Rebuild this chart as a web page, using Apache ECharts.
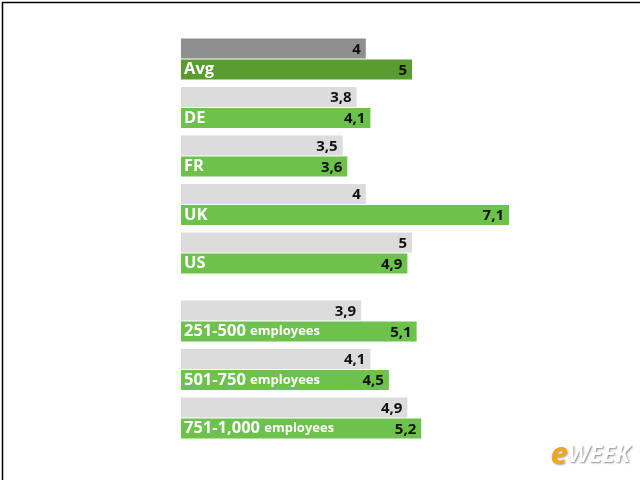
<!DOCTYPE html>
<html>
<head>
<meta charset="utf-8">
<script src="https://cdn.jsdelivr.net/npm/echarts@6/dist/echarts.min.js"></script>
<style>html,body{margin:0;padding:0;background:#fff;}#c{width:640px;height:480px;}</style>
</head>
<body>
<div id="c"></div>
<script>
const countries = ['Avg', 'DE', 'FR', 'UK', 'US'];
const countryPrev = [4, 3.8, 3.5, 4, 5];
const countryCur = [5, 4.1, 3.6, 7.1, 4.9];
const sizes = ['251-500 employees', '501-750 employees', '751-1,000 employees'];
const sizePrev = [3.9, 4.1, 4.9];
const sizeCur = [5.1, 4.5, 5.2];

const FONT = '"Open Sans", "DejaVu Sans", sans-serif';
const greyC = '#dcdcdc', greenC = '#6cc24a';
const avgGrey = '#8f8f8f', avgGreen = '#5a9c30';

function fmt(p) { return String(p.value).replace('.', ','); }
const valLabel = {
  show: true, position: 'insideRight', distance: 5, formatter: fmt,
  color: '#111111', fontFamily: FONT, fontWeight: 'bold', fontSize: 15, offset: [0, 1]
};

function items(vals, cats, normal, special) {
  return vals.map((v, i) => cats[i] === 'Avg' ? { value: v, itemStyle: { color: special } } : { value: v, itemStyle: { color: normal } });
}

const yLabel = {
  inside: true, margin: 3, color: '#ffffff', fontFamily: FONT, fontWeight: 'bold', fontSize: 16,
  padding: [21, 0, 0, 0],
  formatter: function (v) {
    const i = v.indexOf(' ');
    if (i < 0) return '{n|' + v + '}';
    return '{n|' + v.slice(0, i) + '} {e|' + v.slice(i + 1) + '}';
  },
  rich: {
    n: { color: '#fff', fontFamily: FONT, fontWeight: 'bold', fontSize: 16.5 },
    e: { color: '#fff', fontFamily: FONT, fontWeight: 'bold', fontSize: 13 }
  }
};

const xBase = { type: 'value', min: 0, max: 9, show: false };

const option = {
  animation: false,
  backgroundColor: '#ffffff',
  grid: [
    { left: 181, right: 43.2, top: 34.75, height: 242.5 },
    { left: 181, right: 43.2, top: 296.75, height: 145.5 }
  ],
  xAxis: [Object.assign({ gridIndex: 0 }, xBase), Object.assign({ gridIndex: 1 }, xBase)],
  yAxis: [
    { type: 'category', gridIndex: 0, data: countries, inverse: true, z: 10,
      axisLine: { show: false }, axisTick: { show: false }, splitLine: { show: false }, axisLabel: yLabel },
    { type: 'category', gridIndex: 1, data: sizes, inverse: true, z: 10,
      axisLine: { show: false }, axisTick: { show: false }, splitLine: { show: false }, axisLabel: yLabel }
  ],
  series: [
    { type: 'bar', xAxisIndex: 0, yAxisIndex: 0, barWidth: 20, barGap: '5%',
      data: items(countryPrev, countries, greyC, avgGrey), label: valLabel },
    { type: 'bar', xAxisIndex: 0, yAxisIndex: 0, barWidth: 20, barGap: '5%',
      data: items(countryCur, countries, greenC, avgGreen), label: valLabel },
    { type: 'bar', xAxisIndex: 1, yAxisIndex: 1, barWidth: 20, barGap: '5%',
      data: items(sizePrev, sizes, greyC, avgGrey), label: valLabel },
    { type: 'bar', xAxisIndex: 1, yAxisIndex: 1, barWidth: 20, barGap: '5%',
      data: items(sizeCur, sizes, greenC, avgGreen), label: valLabel }
  ],
  graphic: [
    { type: 'rect', left: 0, top: 0, z: 100, silent: true,
      shape: { x: 0.75, y: 0.75, width: 638.5, height: 478.5 },
      style: { fill: 'none', stroke: '#000', lineWidth: 1.5 } },
    { type: 'text', right: 10, bottom: 9, z: 100,
      style: { text: '{a|e}{b|WEEK}',
        rich: {
          a: { fontFamily: FONT, fontWeight: 'bold', fontStyle: 'italic', fontSize: 31, fill: '#f0a71f',
               textShadowColor: 'rgba(0,0,0,0.35)', textShadowBlur: 2, textShadowOffsetX: 1, textShadowOffsetY: 1 },
          b: { fontFamily: FONT, fontWeight: 'bold', fontStyle: 'italic', fontSize: 24, fill: '#ffffff',
               textShadowColor: 'rgba(0,0,0,0.45)', textShadowBlur: 2, textShadowOffsetX: 1, textShadowOffsetY: 1 }
        } } }
  ]
};

const chart = echarts.init(document.getElementById('c'), null, { renderer: 'canvas' });
chart.setOption(option);
</script>
</body>
</html>
